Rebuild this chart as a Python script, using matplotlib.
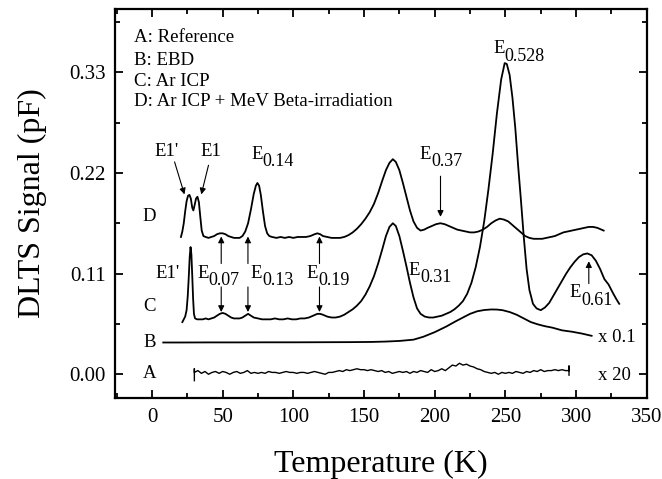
import numpy as np
import matplotlib
matplotlib.use("Agg")
import matplotlib.pyplot as plt
from matplotlib.ticker import MultipleLocator

plt.rcParams["font.family"] = ["Liberation Serif", "DejaVu Serif"]

# curve D: Ar ICP + MeV beta-irradiation
temp_d = [20.5, 21.5, 22.5, 23.5, 24.5, 25.5, 26.5, 27.5, 28.5, 29.3, 30.2, 31.2,
          32.2, 33.2, 34.2, 35.2, 36.4, 38, 40, 42, 44, 46, 48, 50, 52, 54, 56, 58,
          60, 62, 64, 66, 68, 70, 72, 73.5, 74.6, 75.8, 77, 78.5, 80, 81.5, 83, 85,
          88, 91, 94, 97, 100, 103, 106, 109, 112, 115, 117, 119, 121, 124, 127,
          130, 133, 136, 139, 142, 145, 148, 151, 154, 157, 160, 163, 165.5, 168,
          170.4, 172.5, 175, 177.5, 180, 182.5, 185, 187.5, 190, 192.5, 195, 198,
          201, 204, 207, 210, 213, 216, 219, 222, 225, 228, 231, 234, 237, 240,
          243, 246, 249, 252, 255, 258, 261, 264, 267, 270, 273, 276, 279, 282,
          285, 288, 291, 294, 297, 300, 303, 306, 309, 312, 315, 318, 319.5]
sig_d = [0.150, 0.156, 0.165, 0.178, 0.189, 0.195, 0.196, 0.192, 0.182, 0.179, 0.185, 0.192,
         0.194, 0.188, 0.172, 0.157, 0.151, 0.150, 0.149, 0.150, 0.151, 0.153, 0.154, 0.154,
         0.153, 0.151, 0.150, 0.149, 0.149, 0.149, 0.151, 0.156, 0.165, 0.180, 0.197, 0.206,
         0.209, 0.206, 0.196, 0.178, 0.162, 0.154, 0.151, 0.150, 0.149, 0.150, 0.149, 0.150,
         0.149, 0.150, 0.150, 0.150, 0.151, 0.153, 0.154, 0.153, 0.151, 0.150, 0.149, 0.149,
         0.149, 0.150, 0.152, 0.155, 0.159, 0.164, 0.170, 0.177, 0.186, 0.198, 0.212, 0.223,
         0.231, 0.235, 0.232, 0.223, 0.209, 0.194, 0.179, 0.167, 0.160, 0.157, 0.158, 0.160,
         0.162, 0.164, 0.165, 0.164, 0.162, 0.160, 0.158, 0.157, 0.156, 0.155, 0.155, 0.156,
         0.158, 0.161, 0.165, 0.168, 0.170, 0.169, 0.167, 0.163, 0.159, 0.155, 0.151, 0.149,
         0.148, 0.148, 0.148, 0.149, 0.150, 0.151, 0.153, 0.155, 0.156, 0.157, 0.158, 0.159,
         0.160, 0.161, 0.161, 0.160, 0.158, 0.157]

# curve C: Ar ICP
temp_c = [21.5, 22.5, 23.5, 24.5, 25.3, 26.0, 26.7, 27.3, 27.9, 28.5, 29.1, 29.7, 30.5,
          32, 34, 36, 38, 40, 42, 44, 46, 48, 50, 52, 54, 56, 58, 60, 62, 64, 66, 68,
          70, 72, 75, 78, 81, 84, 87, 90, 93, 96, 99, 102, 105, 108, 111, 114, 117,
          119, 121, 124, 127, 130, 133, 136, 139, 142, 145, 148, 151, 154, 157, 160,
          163, 165.5, 168, 170.4, 172.5, 175, 177.5, 180, 182.5, 185, 187.5, 190, 193,
          196, 199, 202, 205, 208, 211, 214, 217, 220, 223, 226, 229, 232, 235, 238,
          241, 244, 247, 249.5, 251, 253, 255, 257, 259, 261, 263, 265, 267, 269.5,
          272, 275, 278, 281, 284, 287, 290, 293, 296, 299, 302, 305, 308, 311, 314,
          317, 320, 323, 326, 328.5, 330.5]
sig_c = [0.057, 0.060, 0.063, 0.070, 0.085, 0.105, 0.128, 0.139, 0.131, 0.108, 0.083, 0.066, 0.061,
         0.060, 0.060, 0.060, 0.061, 0.060, 0.061, 0.062, 0.064, 0.066, 0.067, 0.066, 0.064,
         0.062, 0.061, 0.061, 0.061, 0.062, 0.064, 0.066, 0.064, 0.062, 0.061, 0.060, 0.060,
         0.060, 0.061, 0.060, 0.060, 0.061, 0.060, 0.060, 0.061, 0.061, 0.062, 0.064, 0.066,
         0.066, 0.065, 0.063, 0.062, 0.062, 0.063, 0.065, 0.068, 0.071, 0.075, 0.080, 0.087,
         0.096, 0.107, 0.121, 0.137, 0.151, 0.161, 0.165, 0.162, 0.151, 0.135, 0.118, 0.100,
         0.084, 0.072, 0.066, 0.063, 0.062, 0.062, 0.063, 0.064, 0.066, 0.068, 0.071, 0.075,
         0.080, 0.088, 0.100, 0.117, 0.139, 0.167, 0.202, 0.241, 0.285, 0.322, 0.340, 0.339,
         0.327, 0.302, 0.269, 0.228, 0.190, 0.150, 0.115, 0.092, 0.077, 0.072, 0.070, 0.073,
         0.078, 0.086, 0.094, 0.102, 0.110, 0.117, 0.123, 0.128, 0.131, 0.132, 0.130, 0.124,
         0.115, 0.104, 0.098, 0.089, 0.082, 0.077]

# curve B: EBD (x 0.1)
temp_b = [8, 20, 40, 60, 80, 100, 120, 140, 155, 165, 175, 185, 192, 200, 208, 215,
          220, 225, 230, 235, 240, 244, 248, 253, 258, 263, 268, 273, 278, 283, 290,
          297, 304, 311]
sig_b = [0.0347, 0.0347, 0.0348, 0.0348, 0.0349, 0.0349, 0.0350, 0.0351, 0.0353, 0.0357,
         0.0364, 0.0378, 0.0410, 0.0460, 0.0520, 0.0580, 0.0620, 0.0660, 0.0688, 0.0702,
         0.0708, 0.0707, 0.0700, 0.0680, 0.0650, 0.0610, 0.0570, 0.0545, 0.0525, 0.0510,
         0.0480, 0.0465, 0.0445, 0.0420]

# curve A: reference (x 20), sampled every 2.5 K from 32.5 to 292.5 K
temp_a = np.arange(32.5, 293.0, 2.5)
sig_a = [0.004, 0.001, 0.003, 0.000, 0.002, 0.003, 0.001, 0.003,
         0.002, 0.000, 0.002, 0.003, 0.001, 0.002, 0.004, 0.001, 0.002, 0.001,
         0.002, 0.001, 0.003, 0.002, 0.002, 0.001, 0.002, 0.003, 0.002, 0.002,
         0.001, 0.002, 0.002, 0.001, 0.002, 0.003, 0.002, 0.001, 0.000, 0.002,
         0.002, 0.003, 0.004, 0.003, 0.005, 0.004, 0.005, 0.006, 0.005, 0.005,
         0.004, 0.005, 0.004, 0.003, 0.004, 0.002, 0.003, 0.001, 0.002, 0.003,
         0.002, 0.003, 0.001, 0.003, 0.002, 0.004, 0.003, 0.002, 0.005, 0.003,
         0.004, 0.006, 0.004, 0.007, 0.010, 0.009, 0.012, 0.010, 0.011, 0.009,
         0.008, 0.006, 0.005, 0.003, 0.002, 0.001, 0.002, 0.000, 0.002, 0.001,
         0.002, 0.001, 0.003, 0.002, 0.001, 0.003, 0.002, 0.004, 0.003, 0.005,
         0.003, 0.004, 0.004, 0.005, 0.004, 0.005, 0.004]
# end marks of curve A
a_start = [30, 30, 30]
a_start_sig = [-0.007, 0.006, 0.002]
a_end = [295, 295, 295]
a_end_sig = [0.004, 0.009, -0.001]

legend_lines = ["A: Reference", "B: EBD", "C: Ar ICP", "D: Ar ICP + MeV Beta-irradiation"]
legend_y = [0.368, 0.343, 0.3195, 0.298]

curve_names = ["D", "C", "B", "A"]
curve_name_y = [0.172, 0.0735, 0.0342, 0.0008]

# trap labels: (x of "E", y, subscript)
trap_labels = [(70.2, 0.2404, "0.14"), (189.3, 0.2404, "0.37"), (241.2, 0.3555, "0.528"),
               (32.0, 0.1104, "0.07"), (69.7, 0.1104, "0.13"), (109.6, 0.1104, "0.19"),
               (181.5, 0.1136, "0.31"), (295.3, 0.089, "0.61")]

yticks = [0.00, 0.11, 0.22, 0.33]


def main():
    fig = plt.figure(figsize=(6.62, 4.79), dpi=100)
    ax = fig.add_axes([0.174, 0.169, 0.803, 0.812])
    lw = 1.3

    ax.plot(temp_d, sig_d, color="black", lw=lw)
    ax.plot(temp_c, sig_c, color="black", lw=lw)
    ax.plot(temp_b, sig_b, color="black", lw=lw)
    ax.plot(np.concatenate([a_start, temp_a, a_end]),
            np.concatenate([a_start_sig, sig_a, a_end_sig]), color="black", lw=1.0)

    ax.set_xlim(-26, 350)
    ax.set_ylim(-0.026, 0.399)
    ax.xaxis.set_major_locator(MultipleLocator(50))
    ax.xaxis.set_minor_locator(MultipleLocator(25))
    ax.set_yticks(yticks)
    ax.set_yticklabels(["%.2f" % v for v in yticks])
    ax.yaxis.set_minor_locator(MultipleLocator(0.055))
    ax.tick_params(which="both", direction="in", top=True, right=True, width=1.3,
                   labelsize=15, pad=7)
    ax.tick_params(which="major", length=6)
    ax.tick_params(which="minor", length=3.5)
    for sp in ax.spines.values():
        sp.set_linewidth(1.6)

    ax.set_xlabel("Temperature (K)", fontsize=23, labelpad=17)
    ax.set_ylabel("DLTS Signal (pF)", fontsize=23, labelpad=16)

    for txt, y in zip(legend_lines, legend_y):
        ax.text(-12.5, y, txt, fontsize=13.6, va="center", ha="left")
    for txt, y in zip(curve_names, curve_name_y):
        ax.text(-1.7, y, txt, fontsize=13.5, va="center", ha="center")

    ax.text(315.8, 0.040, "x 0.1", fontsize=13.5, va="center", ha="left")
    ax.text(315.8, -0.001, "x 20", fontsize=13.5, va="center", ha="left")

    arr = dict(arrowstyle="-|>", lw=0.8, color="black", mutation_scale=9,
               shrinkA=0, shrinkB=0)
    fs = 13.5

    for x, y, sub in trap_labels:
        ax.text(x, y, "E", fontsize=fs, ha="left", va="center")
        ax.annotate(sub, xy=(x, y), xytext=(8.4, -5.5), textcoords="offset points",
                    fontsize=13, ha="left", va="center")

    # labels on curve D
    ax.text(10.1, 0.243, "E1'", fontsize=fs, ha="center", va="center")
    ax.text(41.9, 0.243, "E1", fontsize=fs, ha="center", va="center")
    ax.annotate("", xy=(23.0, 0.1965), xytext=(16.0, 0.232), arrowprops=arr)
    ax.annotate("", xy=(34.9, 0.1965), xytext=(40.0, 0.2284), arrowprops=arr)
    ax.annotate("", xy=(204.1, 0.172), xytext=(204.1, 0.2164), arrowprops=arr)

    # labels on curve C
    ax.text(11.3, 0.110, "E1'", fontsize=fs, ha="center", va="center")
    for x_arr in [49.0, 67.9, 118.5]:
        ax.annotate("", xy=(x_arr, 0.1505), xytext=(x_arr, 0.121), arrowprops=arr)
        ax.annotate("", xy=(x_arr, 0.068), xytext=(x_arr, 0.0954), arrowprops=arr)
    ax.annotate("", xy=(309.0, 0.1235), xytext=(309.0, 0.099), arrowprops=arr)

    fig.savefig("out.png", dpi=100)


if __name__ == "__main__":
    main()
